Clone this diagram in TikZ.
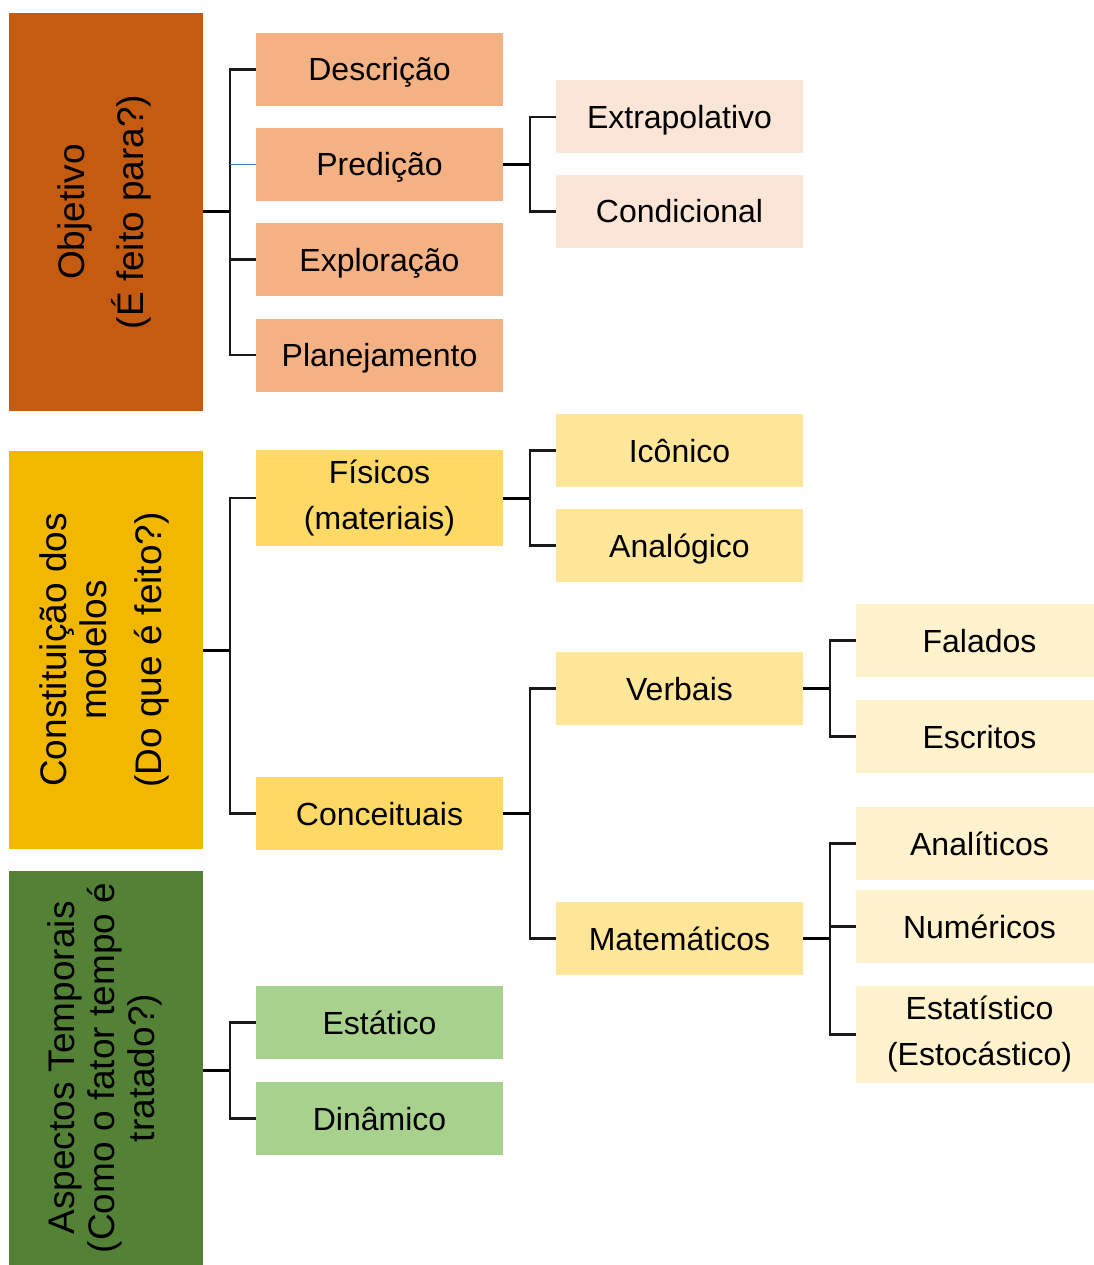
\documentclass[tikz,border=0pt]{standalone}
\usepackage{fontspec}
\usepackage{graphicx}
\setmainfont{Liberation Sans}
\definecolor{objc}{HTML}{C55A11}
\definecolor{conc}{HTML}{F2B800}
\definecolor{aspc}{HTML}{538135}
\definecolor{ltwoo}{HTML}{F4B183}
\definecolor{lthreeo}{HTML}{FBE5D6}
\definecolor{ltwoy}{HTML}{FFD966}
\definecolor{lthreey}{HTML}{FFE699}
\definecolor{lfoury}{HTML}{FFF2CC}
\definecolor{ltwog}{HTML}{A9D18E}
\definecolor{linkblue}{HTML}{4A76B0}
\begin{document}
\begin{tikzpicture}[x=1pt,y=-1pt,
  box/.style={rectangle, inner sep=0pt, align=center, text=black,
    font=\fontsize{32}{46}\selectfont},
  one/.style={text height=23pt, text depth=0pt},
  side/.style={box, minimum width=194pt, font=\fontsize{37}{40}\selectfont},
  two/.style={box, minimum width=247pt, minimum height=73pt},
  three/.style={box, minimum width=247pt, minimum height=73pt},
  four/.style={box, minimum width=247pt, minimum height=73pt},
  stub/.style={draw=black, line width=3pt},
  br/.style={draw=black!90, line width=2.2pt},
]
\useasboundingbox (0,0) rectangle (1093,1265);
\fill[white] (0,0) rectangle (1093,1265);

% left column
\node[side, fill=objc, minimum height=398pt] (obj) at (106,212)
  {\rotatebox{90}{\begin{tabular}{@{}c@{}}Objetivo\\[15pt](É feito para?)\end{tabular}}};
\node[side, fill=conc, minimum height=398pt] (con) at (106,650)
  {\rotatebox{90}{\begin{tabular}{@{}c@{}}Constituição dos\\modelos\\[15pt](Do que é feito?)\end{tabular}}};
\node[side, fill=aspc, minimum height=394pt] (asp) at (106,1068)
  {\rotatebox{90}{\begin{tabular}{@{}c@{}}Aspectos Temporais\\(Como o fator tempo é\\tratado?)\end{tabular}}};

% level 2
\node[two, one, fill=ltwoo] (desc) at (379.5,69.5) {Descrição};
\node[two, one, fill=ltwoo] (pred) at (379.5,164.5) {Predição};
\node[two, one, fill=ltwoo] (expl) at (379.5,259.5) {Exploração};
\node[two, one, fill=ltwoo] (plan) at (379.5,355) {Planejamento};
\node[two, fill=ltwoy, minimum height=96pt] (fis) at (379.5,498) {Físicos\\(materiais)};
\node[two, one, fill=ltwoy] (conce) at (379.5,813.5) {Conceituais};
\node[two, one, fill=ltwog] (esta) at (379.5,1022.5) {Estático};
\node[two, one, fill=ltwog] (dina) at (379.5,1118.5) {Dinâmico};

% level 3
\node[three, one, fill=lthreeo] (extr) at (679.5,117) {Extrapolativo};
\node[three, one, fill=lthreeo] (cond) at (679.5,211.5) {Condicional};
\node[three, one, fill=lthreey] (icon) at (679.5,450.5) {Icônico};
\node[three, one, fill=lthreey] (anal) at (679.5,545.5) {Analógico};
\node[three, one, fill=lthreey] (verb) at (679.5,688.5) {Verbais};
\node[three, one, fill=lthreey] (mate) at (679.5,938.5) {Matemáticos};

% level 4
\node[four, one, fill=lfoury] (fala) at (979.5,640.5) {Falados};
\node[four, one, fill=lfoury] (escr) at (979.5,736.5) {Escritos};
\node[four, one, fill=lfoury] (analit) at (979.5,843.5) {Analíticos};
\node[four, one, fill=lfoury] (nume) at (979.5,926.5) {Numéricos};
\node[four, fill=lfoury, minimum height=97pt] (estat) at (979.5,1034.5) {Estatístico\\(Estocástico)};

% junction points
\coordinate (j1) at (230,212);
\coordinate (j2) at (530,164.5);
\coordinate (j3) at (230,650);
\coordinate (j4) at (530,498);
\coordinate (j5) at (530,813.5);
\coordinate (j6) at (830,688.5);
\coordinate (j7) at (830,938.5);
\coordinate (j8) at (230,1070);

% Objetivo
\draw[stub] (obj.east |- j1) -- (j1);
\draw[br] (desc.west) -| (j1) |- (plan.west);
\draw[br] (expl.west) -- (j1 |- expl.west);
\draw[draw=linkblue, line width=1.6pt] (pred.west) -- (j1 |- pred.west);
% Predicao
\draw[stub] (pred.east) -- (j2);
\draw[br] (extr.west) -| (j2) |- (cond.west);
% Constituicao
\draw[stub] (con.east |- j3) -- (j3);
\draw[br] (fis.west) -| (j3) |- (conce.west);
% Fisicos
\draw[stub] (fis.east) -- (j4);
\draw[br] (icon.west) -| (j4) |- (anal.west);
% Conceituais
\draw[stub] (conce.east) -- (j5);
\draw[br] (verb.west) -| (j5) |- (mate.west);
% Verbais
\draw[stub] (verb.east) -- (j6);
\draw[br] (fala.west) -| (j6) |- (escr.west);
% Matematicos
\draw[stub] (mate.east) -- (j7);
\draw[br] (analit.west) -| (j7) |- (estat.west);
\draw[br] (nume.west) -- (j7 |- nume.west);
% Aspectos
\draw[stub] (asp.east |- j8) -- (j8);
\draw[br] (esta.west) -| (j8) |- (dina.west);
\end{tikzpicture}
\end{document}
